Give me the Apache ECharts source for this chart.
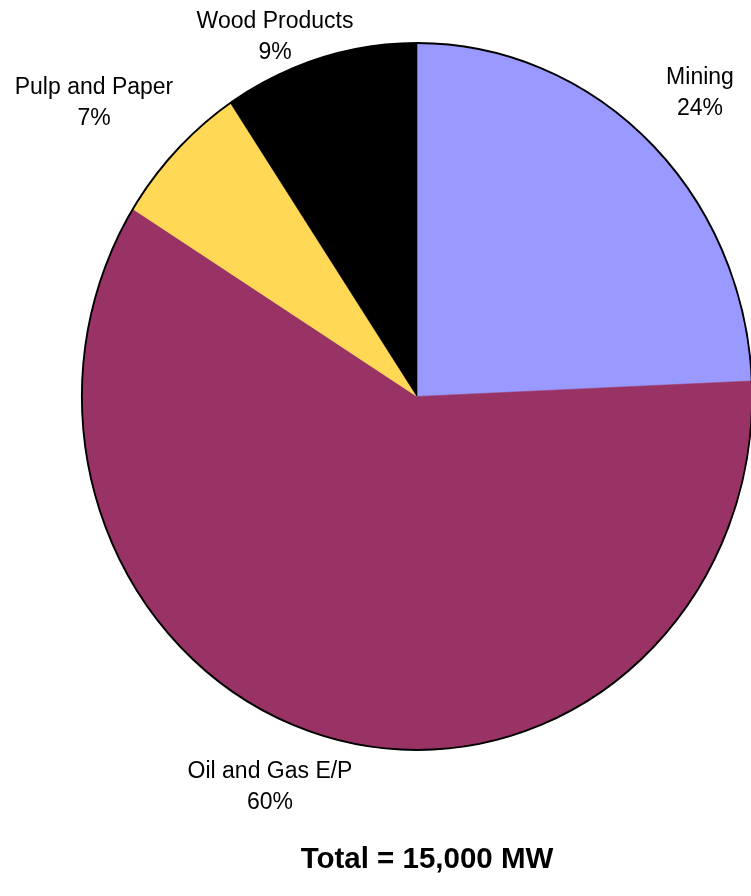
<!DOCTYPE html>
<html>
<head>
<meta charset="utf-8">
<script src="https://cdn.jsdelivr.net/npm/echarts@6/dist/echarts.min.js"></script>
<style>
  html, body { margin: 0; padding: 0; background: #fff; }
  #chart { width: 751px; height: 896px; }
</style>
</head>
<body>
<div id="chart"></div>
<script>
// ---- data ----
var categories = ['Mining', 'Oil and Gas E/P', 'Pulp and Paper', 'Wood Products'];
var shares = [24.3, 59.6, 6.7, 9.4];
var colors = ['#9999FF', '#993366', '#FFD955', '#000000'];
var totalLabel = 'Total = 15,000 MW';

var FONT = '"Liberation Sans", Arial, Helvetica, sans-serif';
var CENTER = [417, 396.5];
var R = 353.5;
var SQUEEZE = 0.948; // the original pie is a slightly narrow ellipse
var labelPos = [[700, 93], [270, 787], [94, 103], [275, 37]];

// cumulative [start, end] of every slice on a 0..total angle scale
var total = shares.reduce(function (a, b) { return a + b; }, 0);
var sliceRanges = [];
(function () {
  var acc = 0;
  shares.forEach(function (v) { sliceRanges.push([acc, acc + v]); acc += v; });
})();

var pieData = categories.map(function (c, i) {
  return { name: c, value: shares[i] };
});

function angleOf(api, cs, val) {
  var p = api.coord([1, val]);
  return Math.atan2(p[1] - cs.cy, p[0] - cs.cx);
}

var chart = echarts.init(document.getElementById('chart'), null, { renderer: 'canvas' });
chart.setOption({
  animation: false,
  title: {
    text: totalLabel,
    left: 422,
    top: 840,
    textAlign: 'center',
    textStyle: { fontFamily: FONT, fontSize: 29.5, fontWeight: 'bold', color: '#000' }
  },
  polar: { center: CENTER, radius: R },
  angleAxis: { type: 'value', min: 0, max: total, startAngle: 90, clockwise: true, show: false },
  radiusAxis: { type: 'value', min: 0, max: 1, show: false },
  series: [
    {
      type: 'custom',
      coordinateSystem: 'polar',
      silent: true,
      data: sliceRanges,
      renderItem: function (params, api) {
        var cs = params.coordSys;
        var a0 = angleOf(api, cs, api.value(0));
        var a1 = angleOf(api, cs, api.value(1));
        while (a1 <= a0 + 1e-6) a1 += Math.PI * 2;
        var col = colors[params.dataIndex];
        return {
          type: 'sector',
          shape: { cx: cs.cx, cy: cs.cy, r0: 0, r: cs.r, startAngle: a0, endAngle: a1, clockwise: true },
          style: { fill: col, stroke: col, lineWidth: 0.6 },
          originX: cs.cx,
          originY: cs.cy,
          scaleX: SQUEEZE
        };
      }
    },
    {
      type: 'custom',
      coordinateSystem: 'polar',
      silent: true,
      data: [[0, total]],
      renderItem: function (params, api) {
        var cs = params.coordSys;
        return {
          type: 'circle',
          shape: { cx: cs.cx, cy: cs.cy, r: cs.r },
          style: { fill: null, stroke: '#000', lineWidth: 2, strokeNoScale: true },
          originX: cs.cx,
          originY: cs.cy,
          scaleX: SQUEEZE,
          z2: 10
        };
      }
    },
    {
      type: 'pie',
      center: CENTER,
      radius: [0, R],
      startAngle: 90,
      clockwise: true,
      silent: true,
      z: 5,
      itemStyle: { color: 'rgba(0,0,0,0)', borderWidth: 0 },
      emphasis: { disabled: true },
      labelLine: { show: false },
      label: {
        show: true,
        position: 'inside',
        overflow: 'none',
        fontFamily: FONT,
        fontSize: 23,
        lineHeight: 31,
        color: '#000',
        align: 'center',
        formatter: function (p) { return p.name + '\n' + Math.round(p.percent) + '%'; }
      },
      labelLayout: function (params) {
        var p = labelPos[params.dataIndex];
        return { x: p[0], y: p[1], align: 'center', verticalAlign: 'middle', hideOverlap: false };
      },
      data: pieData
    }
  ]
});
</script>
</body>
</html>
